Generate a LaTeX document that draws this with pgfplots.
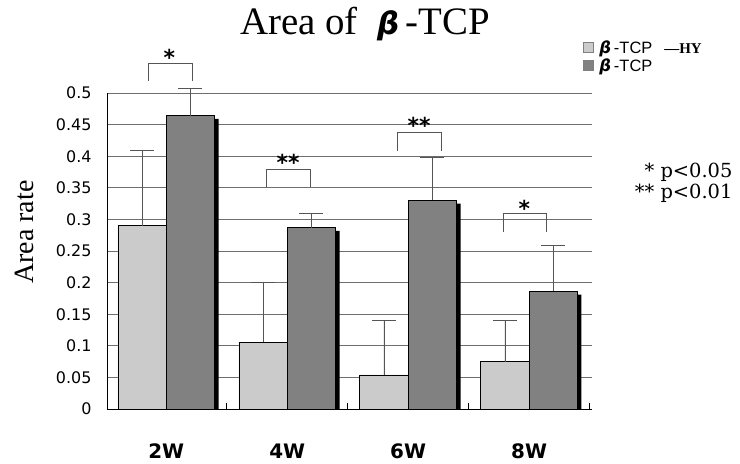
\documentclass[border=0pt]{standalone}
\usepackage{fontspec}
\setmainfont{Liberation Serif}
\newfontfamily\dejasans{DejaVu Sans}
\newfontfamily\dejaserif{DejaVu Serif}
\newfontfamily\arial{Liberation Sans}
\usepackage{pgfplots}
\usepackage{pgfplotstable}
\pgfplotsset{compat=1.18}

\definecolor{lightbar}{HTML}{CBCBCB}
\definecolor{darkbar}{HTML}{818181}
\definecolor{gridc}{HTML}{6E6E6E}
\definecolor{errc}{HTML}{555555}

% week, light mean, light +err, dark mean, dark +err
\pgfplotstableread{
x light lerr dark derr
0 0.290 0.120 0.464 0.043
1 0.106 0.095 0.287 0.022
2 0.054 0.087 0.330 0.068
3 0.075 0.066 0.186 0.073
}\areadata

\begin{document}
\begin{tikzpicture}
\useasboundingbox (0,0) rectangle (740bp,464bp);
\begin{axis}[
    at={(107bp,55bp)}, anchor=south west,
    scale only axis,
    width=485bp, height=316bp,
    clip=false,
    xmin=-0.49, xmax=3.52,
    ymin=0, ymax=0.5,
    axis x line*=bottom, axis y line*=left,
    axis line style={-, line width=0.7bp, black},
    xtick={0,1,2,3},
    xticklabels={2W,4W,6W,8W},
    minor xtick={0.5,1.5,2.5,3.5},
    ytick={0,0.05,...,0.5},
    yticklabel style={/pgf/number format/fixed, /pgf/number format/precision=2,
        font=\dejasans\fontsize{16}{18}\selectfont, xshift=-12bp},
    /pgf/number format/assume math mode=true,
    xticklabel style={font=\dejasans\bfseries\fontsize{20}{22}\selectfont, yshift=-31bp},
    major tick length=0pt,
    minor tick length=6bp,
    minor x tick style={line width=0.6bp, black},
    ymajorgrids,
    grid style={line width=0.8bp, draw=gridc},
    legend style={at={(0.981,1.168)}, anchor=north west, draw=none, fill=none,
        font=\arial\fontsize{16.5}{18}\selectfont, row sep=2.5bp, inner sep=0pt,
        legend cell align=left, nodes={inner xsep=6bp, inner ysep=0.5bp}},
    legend image code/.code={\draw[#1, draw=gray, line width=0.5bp] (0bp,-5bp) rectangle (10bp,5bp);},
    ebar/.style={error bars/.cd, y dir=plus, y explicit,
        error bar style={line width=0.7bp, errc},
        error mark options={line width=0.7bp, errc, mark size=12bp, rotate=90}},
]
\addplot[ybar, bar width=0.4, bar shift=0, fill=lightbar, draw=black, line width=0.6bp, ebar]
    table[x expr=\thisrow{x}-0.2, y=light, y error=lerr] {\areadata};
\addlegendentry{{\dejasans\bfseries\itshape β}\,-TCP\hspace{12bp}{\rmfamily\bfseries\fontsize{15}{16}\selectfont —HY}}

% black drop shadow on the right of the dark bars
\addplot[ybar, bar width=0.4, bar shift=0, fill=black, draw=none, forget plot]
    table[x expr=\thisrow{x}+0.233, y expr=\thisrow{dark}-0.005] {\areadata};

\addplot[ybar, bar width=0.4, bar shift=0, fill=darkbar, draw=black, line width=0.6bp, ebar]
    table[x expr=\thisrow{x}+0.2, y=dark, y error=derr] {\areadata};
\addlegendentry{{\dejasans\bfseries\itshape β}\,-TCP}

% significance brackets
\draw[line width=0.6bp, errc] (axis cs:-0.149,0.519) |- (axis cs:0.215,0.547) -- (axis cs:0.215,0.519);
\draw[line width=0.6bp, errc] (axis cs:0.826,0.351) |- (axis cs:1.19,0.380) -- (axis cs:1.19,0.351);
\draw[line width=0.6bp, errc] (axis cs:1.909,0.408) |- (axis cs:2.273,0.438) -- (axis cs:2.273,0.408);
\draw[line width=0.6bp, errc] (axis cs:2.785,0.280) |- (axis cs:3.14,0.309) -- (axis cs:3.14,0.280);
\tikzset{star/.style={font=\dejasans\bfseries\fontsize{22}{22}\selectfont, anchor=base, inner sep=0pt}}
\node[star] at (axis cs:0.025,0.544) {*};
\node[star] at (axis cs:1.008,0.377) {**};
\node[star] at (axis cs:2.09,0.436) {**};
\node[star] at (axis cs:2.96,0.304) {*};
\end{axis}

\node[font=\fontsize{39}{42}\selectfont] at (365bp,440bp)
    {Area of \ {\dejasans\bfseries\itshape\fontsize{31}{31}\selectfont β}\,-TCP};
\node[rotate=90, font=\fontsize{28}{30}\selectfont] at (24bp,232bp) {Area rate};
\node[anchor=east, align=right, font=\dejaserif\fontsize{19.5}{21}\selectfont] at (736bp,281bp)
    {* p<0.05\\** p<0.01};
\end{tikzpicture}
\end{document}
